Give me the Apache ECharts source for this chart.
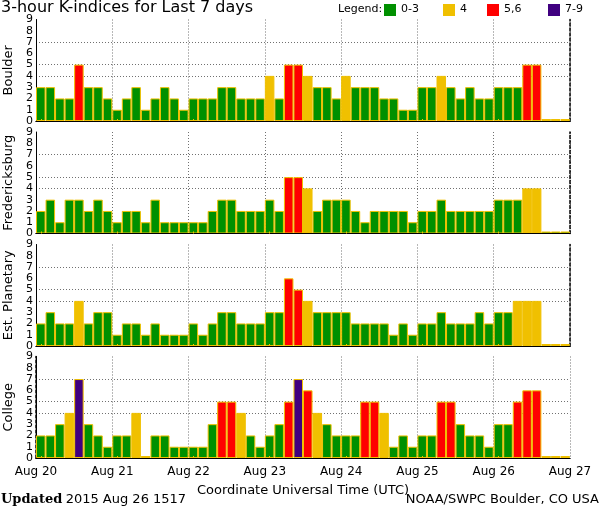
<!DOCTYPE html>
<html><head><meta charset="utf-8">
<script src="https://cdn.jsdelivr.net/npm/echarts@6/dist/echarts.min.js"></script>
<style>html,body{margin:0;padding:0;background:#fff}#c{width:600px;height:510px}</style>
</head><body><div id="c"></div>
<script>
const dayLabels = ['Aug 20','Aug 21','Aug 22','Aug 23','Aug 24','Aug 25','Aug 26','Aug 27'];
const hours = ['00','03','06','09','12','15','18','21'];
const stations = ['Boulder','Fredericksburg','Est. Planetary','College'];
const boulder = [3,3,2,2,5,3,3,2, 1,2,3,1,2,3,2,1, 2,2,2,3,3,2,2,2, 4,2,5,5,4,3,3,2, 4,3,3,3,2,2,1,1, 3,3,4,3,2,3,2,2, 3,3,3,5,5,0,0,0];
const fredericksburg = [2,3,1,3,3,2,3,2, 1,2,2,1,3,1,1,1, 1,1,2,3,3,2,2,2, 3,2,5,5,4,2,3,3, 3,2,1,2,2,2,2,1, 2,2,3,2,2,2,2,2, 3,3,3,4,4,0,0,0];
const estPlanetary = [2,3,2,2,4,2,3,3, 1,2,2,1,2,1,1,1, 2,1,2,3,3,2,2,2, 3,3,6,5,4,3,3,3, 3,2,2,2,2,1,2,1, 2,2,3,2,2,2,3,2, 3,3,4,4,4,0,0,0];
const college = [2,2,3,4,7,3,2,1, 2,2,4,0,2,2,1,1, 1,1,3,5,5,4,2,1, 2,3,5,7,6,4,3,2, 2,2,5,5,4,1,2,1, 2,2,5,5,3,2,2,1, 3,3,5,6,6,0,0,0];
const panels = [boulder, fredericksburg, estPlanetary, college];
const yTicks = [0,1,2,3,4,5,6,7,8,9];
const gridLevels = [4,5,7];
const legendItems = ['0-3','4','5,6','7-9'];

const GREEN='#009000', YELLOW='#f0c000', RED='#ff0000', PURPLE='#400080';
function colorFor(v){ return v<=3?GREEN:(v===4?YELLOW:(v<=6?RED:PURPLE)); }

const categories = [];
for (let d=0; d<7; d++) for (let h=0; h<8; h++) categories.push(dayLabels[d]+' '+hours[h]);

const tops = [19.5, 132, 244.5, 356.5];
const H = 101.5;
const font = 'DejaVu Sans';
const grid=[], xAxis=[], yAxis=[], series=[];
const G='#707070';
panels.forEach((vals,i)=>{
  grid.push({left:36, right:30, top:tops[i], height:H, containLabel:false, outerBoundsMode:'none'});
  xAxis.push({type:'category', gridIndex:i, data:categories, boundaryGap:true, z:5,
    axisLine:{show:true, lineStyle:{color:'#000', width:1}},
    axisTick:{show:true, inside:true, length:2, alignWithLabel:true, lineStyle:{color:YELLOW}},
    axisLabel:{show:false}, splitLine:{show:false}});
  xAxis.push({type:'value', gridIndex:i, min:0, max:7, interval:1, position:'top',
    axisLine:{show:true, lineStyle:{color:'#000', width:1}}, axisTick:{show:false}, axisLabel:{show:false},
    splitLine:{show:true, lineStyle:{color:G, type:[1,2], width:1}}});
  yAxis.push({type:'value', gridIndex:i, min:0, max:9, interval:1,
    axisLine:{show:true, lineStyle:{color:'#000'}},
    axisTick:{show:false, customValues:gridLevels},
    axisLabel:{fontSize:11, color:'#000', margin:3, fontFamily:font, customValues:yTicks},
    splitLine:{show:true, lineStyle:{color:G, type:[1,2], width:1}},
    name:stations[i], nameLocation:'middle', nameRotate:90, nameGap:20,
    nameTextStyle:{fontSize:13, color:'#000', fontFamily:font}});
  yAxis.push({type:'value', gridIndex:i, min:0, max:9, position:'right',
    axisLine:{show:true, lineStyle:{color:'#000', type:[3,2], width:1.5}}, axisTick:{show:false},
    axisLabel:{show:false}, splitLine:{show:false}});
  series.push({type:'bar', name:stations[i], xAxisIndex:2*i, yAxisIndex:2*i, barWidth:'100%', barMinHeight:2,
    data: vals.map(v=>({value:v, itemStyle:{color:colorFor(v)}})),
    itemStyle:{borderColor:YELLOW, borderWidth:1}, silent:true});
});
xAxis.push({type:'value', gridIndex:3, min:0, max:7, interval:1, position:'bottom',
  axisLine:{show:false}, axisTick:{show:false}, splitLine:{show:false},
  axisLabel:{fontSize:12, color:'#000', margin:8, fontFamily:font, formatter:v=>dayLabels[v]},
  name:'Coordinate Universal Time (UTC)', nameLocation:'middle', nameGap:26,
  nameTextStyle:{fontSize:13, color:'#000', fontFamily:font}});

const legendColors=[GREEN,YELLOW,RED,PURPLE];
const legendX=[384,443,487,548];
const graphic=[
  {type:'text', left:1, top:0, style:{text:'3-hour K-indices for Last 7 days', font:'16px '+font, fill:'#000'}},
  {type:'text', left:338, top:4, style:{text:'Legend:', font:'11px '+font, fill:'#000'}}
];
legendItems.forEach((t,k)=>{
  graphic.push({type:'rect', shape:{x:legendX[k], y:4, width:12, height:12}, style:{fill:legendColors[k]}});
  graphic.push({type:'text', left:legendX[k]+17, top:4, style:{text:t, font:'11px '+font, fill:'#000'}});
});
graphic.push({type:'text', left:1, top:493, style:{text:'{b|Updated} {n|2015 Aug 26 1517}',
  rich:{b:{fontFamily:'DejaVu Serif', fontWeight:'bold', fontSize:13, fill:'#000'}, n:{fontFamily:font, fontSize:13, fill:'#000'}}}});
graphic.push({type:'text', right:1, top:493, style:{text:'NOAA/SWPC Boulder, CO USA', font:'13px '+font, fill:'#000'}});

const chart = echarts.init(document.getElementById('c'));
chart.setOption({animation:false, backgroundColor:'#fff', grid, xAxis, yAxis, series, graphic});
</script></body></html>
